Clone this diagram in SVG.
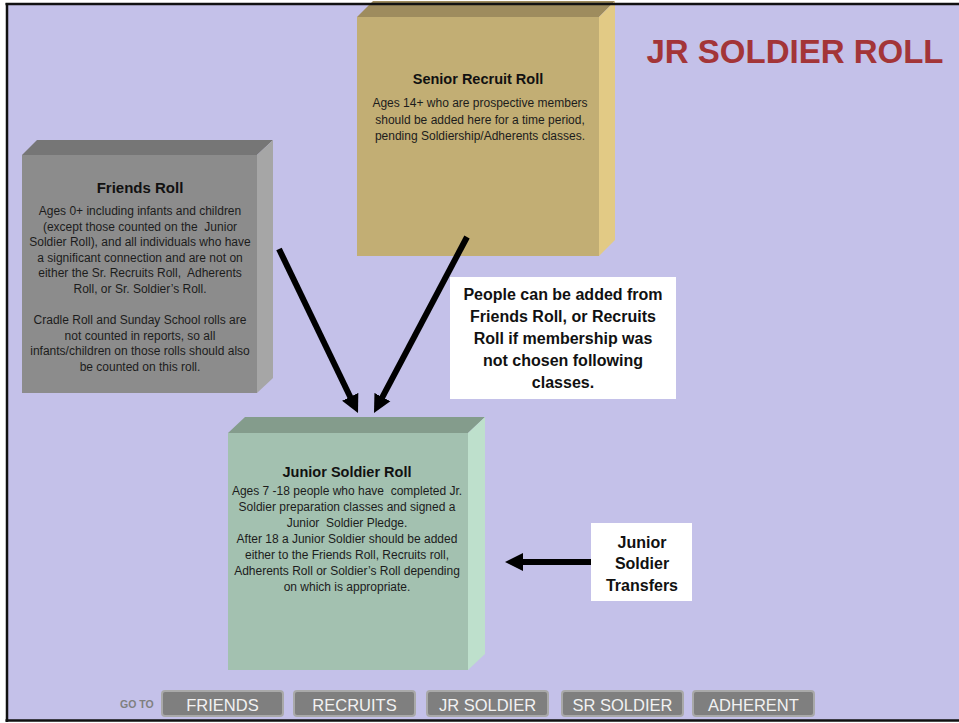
<svg xmlns="http://www.w3.org/2000/svg" width="959" height="723" viewBox="0 0 959 723">
<defs>
<style>
.body{font-family:"Liberation Sans",Arial,sans-serif;font-size:12px;fill:#1c1c1c;text-anchor:middle;white-space:pre}
.ttl{font-family:"Liberation Sans",Arial,sans-serif;font-weight:bold;fill:#111;text-anchor:middle}
.note{font-family:"Liberation Sans",Arial,sans-serif;font-weight:bold;font-size:16px;fill:#111;text-anchor:middle}
.btn rect{fill:#7f7f7f;stroke:#a9a9a9;stroke-width:2}
.btn text{font-family:"Liberation Sans",Arial,sans-serif;font-size:16.5px;fill:#f2f2f2;text-anchor:middle}
.conn{stroke:#000;stroke-width:6;fill:none;marker-end:url(#ah)}
</style>
<marker id="ah" markerUnits="userSpaceOnUse" markerWidth="20" markerHeight="20" viewBox="0 -10 20 20" refX="6" refY="0" orient="auto">
<path d="M0,-9 L18,0 L0,9 z" fill="#000"/>
</marker>
</defs>
<rect x="0" y="0" width="959" height="723" fill="#ffffff"/>
<rect x="7" y="4" width="952" height="716" fill="#c4c1e9"/>

<g id="senior-recruit-roll">
<polygon points="357,17 373,1 615,1 599,17" fill="#9e8c5e"/>
<polygon points="599,17 615,1 615,240 599,256" fill="#e2ca85"/>
<rect x="357" y="17" width="242" height="239" fill="#c2ae74"/>
<text class="ttl" x="478" y="84" font-size="14.5">Senior Recruit Roll</text>
<text class="body" x="480" y="107">Ages 14+ who are prospective members</text>
<text class="body" x="480" y="123.5">should be added here for a time period,</text>
<text class="body" x="480" y="140">pending Soldiership/Adherents classes.</text>
</g>

<g id="friends-roll">
<polygon points="22,155 37,140 273,140 257,155" fill="#767676"/>
<polygon points="257,155 273,140 273,378 257,393" fill="#a6a6a6"/>
<rect x="22" y="155" width="235" height="238" fill="#8c8c8c"/>
<text class="ttl" x="140" y="193" font-size="15">Friends Roll</text>
<text class="body" x="140" y="215">Ages 0+ including infants and children</text>
<text class="body" x="140" y="230.6" xml:space="preserve">(except those counted on the  Junior</text>
<text class="body" x="140" y="246.2">Soldier Roll), and all individuals who have</text>
<text class="body" x="140" y="261.8">a significant connection and are not on</text>
<text class="body" x="140" y="277.4" xml:space="preserve">either the Sr. Recruits Roll,  Adherents</text>
<text class="body" x="140" y="293">Roll, or Sr. Soldier’s Roll.</text>
<text class="body" x="140" y="324.2">Cradle Roll and Sunday School rolls are</text>
<text class="body" x="140" y="339.8">not counted in reports, so all</text>
<text class="body" x="140" y="355.4">infants/children on those rolls should also</text>
<text class="body" x="140" y="371">be counted on this roll.</text>
</g>

<g id="junior-soldier-roll">
<polygon points="228,433 245,417 485,417 468,433" fill="#849c8c"/>
<polygon points="468,433 485,417 485,654 468,670" fill="#bee0cc"/>
<rect x="228" y="433" width="240" height="237" fill="#a3c1b0"/>
<text class="ttl" x="347" y="477" font-size="14.5">Junior Soldier Roll</text>
<text class="body" x="347" y="495" xml:space="preserve">Ages 7 -18 people who have  completed Jr.</text>
<text class="body" x="347" y="511">Soldier preparation classes and signed a</text>
<text class="body" x="347" y="527" xml:space="preserve">Junior  Soldier Pledge.</text>
<text class="body" x="347" y="543">After 18 a Junior Soldier should be added</text>
<text class="body" x="347" y="559">either to the Friends Roll, Recruits roll,</text>
<text class="body" x="347" y="575">Adherents Roll or Soldier’s Roll depending</text>
<text class="body" x="347" y="591">on which is appropriate.</text>
</g>

<g id="note-added-from">
<rect x="450" y="277" width="226" height="122" fill="#ffffff"/>
<text class="note" x="563" y="299.5">People can be added from</text>
<text class="note" x="563" y="321.5">Friends Roll, or Recruits</text>
<text class="note" x="563" y="343.5">Roll if membership was</text>
<text class="note" x="563" y="365.5">not chosen following</text>
<text class="note" x="563" y="387.5">classes.</text>
</g>

<g id="note-transfers">
<rect x="591" y="523" width="101" height="78" fill="#ffffff"/>
<text class="note" x="642" y="547.5">Junior</text>
<text class="note" x="642" y="568.5">Soldier</text>
<text class="note" x="642" y="590.5">Transfers</text>
</g>

<g id="connectors">
<line class="conn" x1="279" y1="249" x2="352.8" y2="402.2"/>
<line class="conn" x1="467" y1="237" x2="379.6" y2="402.4"/>
<line class="conn" x1="591" y1="562" x2="517" y2="562"/>
</g>

<g id="title">
<text x="795" y="63" text-anchor="middle" font-family="'Liberation Sans',Arial,sans-serif" font-weight="bold" font-size="33" fill="#a33538">JR SOLDIER ROLL</text>
</g>

<g id="nav">
<text x="120" y="708" font-family="'Liberation Sans',Arial,sans-serif" font-weight="bold" font-size="10.5" fill="#7f7f7f">GO TO</text>
<g class="btn" id="btn-friends"><rect x="162" y="691" width="121" height="25" rx="3"/><text x="222.5" y="710.5">FRIENDS</text></g>
<g class="btn" id="btn-recruits"><rect x="294" y="691" width="121" height="25" rx="3"/><text x="354.5" y="710.5">RECRUITS</text></g>
<g class="btn" id="btn-jr-soldier"><rect x="427" y="691" width="121" height="25" rx="3"/><text x="487.5" y="710.5">JR SOLDIER</text></g>
<g class="btn" id="btn-sr-soldier"><rect x="562" y="691" width="121" height="25" rx="3"/><text x="622.5" y="710.5">SR SOLDIER</text></g>
<g class="btn" id="btn-adherent"><rect x="693" y="691" width="121" height="25" rx="3"/><text x="753.5" y="710.5">ADHERENT</text></g>
</g>

<g id="frame">
<line x1="5.5" y1="4" x2="959" y2="4" stroke="#111" stroke-width="2.5"/>
<line x1="7" y1="3" x2="7" y2="722" stroke="#111" stroke-width="2.5"/>
<line x1="5.5" y1="720.5" x2="959" y2="720.5" stroke="#111" stroke-width="2.5"/>
</g>
</svg>
